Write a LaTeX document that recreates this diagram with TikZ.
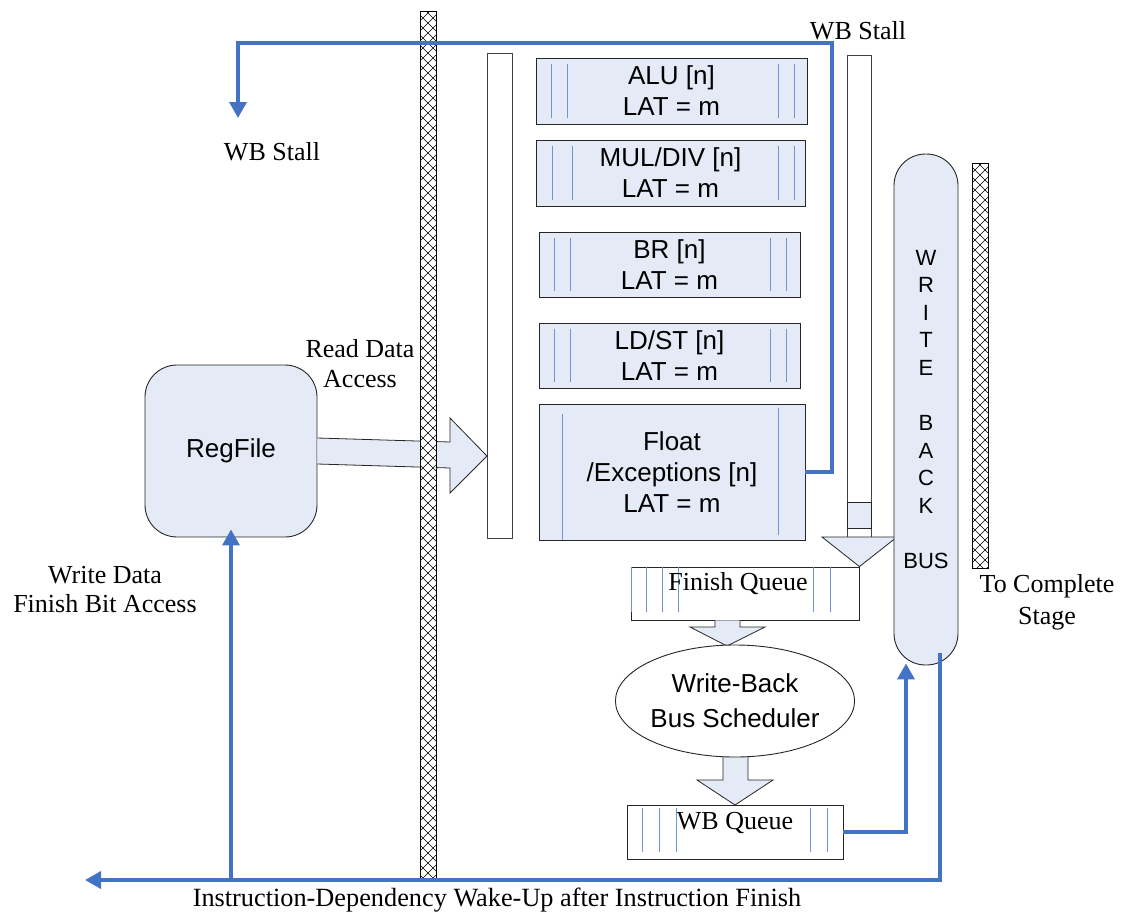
\documentclass[tikz,border=0pt]{standalone}
\usepackage{fontspec}
\setmainfont{Liberation Serif}
\newfontfamily\arialf{Liberation Sans}
\usetikzlibrary{arrows.meta,calc,shapes.geometric}

\definecolor{unitfill}{RGB}{228,235,246}
\definecolor{wire}{RGB}{68,114,196}
\definecolor{slot}{RGB}{110,150,215}

\tikzset{
  unit/.style={draw=black!85, fill=unitfill, line width=0.9pt, inner sep=0pt,
    font=\arialf\fontsize{26}{31}\selectfont, align=center},
  queue/.style={draw=black!85, fill=white, line width=0.9pt, inner sep=0pt},
  column/.style={draw=black!75, fill=white, line width=0.9pt, inner sep=0pt},
  blockarrow/.style={draw=black!85, fill=unitfill, line width=0.8pt},
  slotline/.style={draw=slot, line width=1pt},
  wire/.style={draw=wire, line width=3.6pt},
  wirearrow/.style={wire, -{Triangle[length=16pt,width=17pt]}},
  serif/.style={font=\fontsize{26}{30}\selectfont, align=center, inner sep=0pt},
  hbar/.style={fill=white, inner sep=0pt, outer sep=0pt},
  hatch/.style={line width=0.5pt},
}

% pipeline latch: white bar with a diagonal cross-hatch
% #1 name, #2 left, #3 top, #4 right, #5 bottom
\newcommand{\hatchbar}[5]{%
  \node[hbar, minimum width={#4-#2}, minimum height={#5-#3}] (#1) at ({(#2+#4)/2},{(#3+#5)/2}) {};
  \begin{scope}
    \clip (#2,#3) rectangle (#4,#5);
    \pgfmathtruncatemacro\nlines{(#5-#3+#4-#2)/10+2}
    \foreach \k in {0,...,\nlines}{
      \draw[hatch] (#2,{#3-(#4-#2)+\k*10}) -- ++({#4-#2},{#4-#2});
      \draw[hatch] (#2,{#3+\k*10}) -- ++({#4-#2},{-(#4-#2)});
    }
  \end{scope}
  \draw[line width=0.8pt] (#2,#3) rectangle (#4,#5);
}

\begin{document}
\begin{tikzpicture}[x=1pt,y=-1pt]
\useasboundingbox (0,0) rectangle (1127,916);

% ---- register file and read path ----
\node[unit, rounded corners=32pt, minimum width=172, minimum height=172] (reg) at (231,451) {RegFile};
\node[column] (issue) at (499.5,295.5) [minimum width=25, minimum height=485] {};
\draw[blockarrow] ($(reg.east)+(0,-13)$) -- (450,442) -- (450,418) -- (487,456)
  -- (450,493) -- (450,468) -- ($(reg.east)+(0,13)$);

% ---- functional units ----
\node[unit, minimum width=271, minimum height=66] (alu) at (671.5,91) {ALU [n]\\LAT = m};
\node[unit, minimum width=269, minimum height=66] (mul) at (670.5,173) {MUL/DIV [n]\\LAT = m};
\node[unit, minimum width=261, minimum height=65] (br) at (669.5,264.5) {BR [n]\\LAT = m};
\node[unit, minimum width=261, minimum height=65] (ldst) at (669.5,355.5) {LD/ST [n]\\LAT = m};
\node[unit, minimum width=266, minimum height=136] (float) at (672,472) {Float\\/Exceptions [n]\\LAT = m};

\foreach \u/\la/\lb/\ra/\rb in {alu/16/32/13/29, mul/17/37/11/27, br/16/32/14/30, ldst/16/32/14/30}{
  \draw[slotline] ($(\u.north west)+(\la,6)$) -- ($(\u.south west)+(\la,-6)$);
  \draw[slotline] ($(\u.north west)+(\lb,6)$) -- ($(\u.south west)+(\lb,-6)$);
  \draw[slotline] ($(\u.north east)+(-\ra,6)$) -- ($(\u.south east)+(-\ra,-6)$);
  \draw[slotline] ($(\u.north east)+(-\rb,6)$) -- ($(\u.south east)+(-\rb,-6)$);
}
\draw[slotline] ($(float.north west)+(24,10)$) -- (float.south west -| {$(float.north west)+(24,0)$});
\draw[slotline] ($(float.north east)+(-27,4)$) -- ($(float.south east)+(-27,-5)$);

% ---- write-back column into the finish queue ----
\node[column] (wbcol) at (859,296) [minimum width=24, minimum height=482] {};
\draw[blockarrow] (847,502) rectangle (871,528);

\node[queue, minimum width=228, minimum height=53] (fq) at (745,593.5) {};
\draw[blockarrow] (822,537) -- (fq.north east) -- (897,537) -- cycle;
\foreach \dx in {1,16,32,48}
  \draw[slotline] ($(fq.north west)+(\dx,0)$) -- ($(fq.south west)+(\dx,-8)$);
\foreach \dx in {29,46}
  \draw[slotline] ($(fq.north east)+(-\dx,0)$) -- ($(fq.south east)+(-\dx,-8)$);
\node[serif] (fqlabel) at ($(fq.center)+(-7,-9.5)$) {Finish Queue};

% ---- scheduler and write-back queue ----
\draw[blockarrow] (fq.south -| 715,0) -- (715,627) -- (690,627) -- (727,646)
  -- (765,627) -- (740,627) -- (fq.south -| 740,0);
\draw[blockarrow] (723,750) -- (723,780) -- (697,780) -- (735,805)
  -- (773,780) -- (748,780) -- (748,750);
\node[draw=black!85, fill=white, ellipse, line width=0.9pt, minimum width=224, minimum height=112,
  inner sep=0pt, align=center, font=\arialf\fontsize{26}{35}\selectfont] (sched) at (735,701)
  {Write-Back\\Bus Scheduler};

\node[queue, minimum width=216, minimum height=54] (wbq) at (735,832) {};
\foreach \dx in {16,33,50}
  \draw[slotline] ($(wbq.north west)+(\dx,3)$) -- ($(wbq.south west)+(\dx,-7)$);
\foreach \dx in {16,33}
  \draw[slotline] ($(wbq.north east)+(-\dx,3)$) -- ($(wbq.south east)+(-\dx,-7)$);
\node[serif] (wbqlabel) at ($(wbq.center)+(0,-9)$) {WB Queue};

% ---- write-back bus ----
\node[unit, rounded corners=31.5pt, minimum width=64, minimum height=511,
  font=\arialf\fontsize{22}{27.6}\selectfont] (bus) at (926,409.5)
  {W\\R\\I\\T\\E\\[27.6pt]B\\A\\C\\K\\[27.6pt]BUS};

% ---- pipeline latches ----
\hatchbar{latchA}{420}{11}{436}{878}
\hatchbar{latchB}{972}{163}{988}{568}

% ---- control and wake-up wires ----
\coordinate (stallend) at (238,118);
\coordinate (wakeend) at (85,880);
\draw[wirearrow] (float.east) -| (832,43) -| (stallend);
\draw[wirearrow] (wbq.east) -| ([xshift=-20pt,yshift=2pt]bus.south);
\draw[wirearrow] ([xshift=14pt,yshift=12pt]bus.south) |- (wakeend);
\draw[wirearrow] (reg.south |- wakeend) -- ([yshift=8pt]reg.south);

% ---- labels ----
\node[serif] (stallTop) at (858,31) {WB Stall};
\node[serif] (stallLeft) at (272,152) {WB Stall};
\node[serif] (readLbl) at (360,364) {Read Data\\Access};
\node[serif, font=\fontsize{26}{29}\selectfont] (writeLbl) at (105,589.5) {Write Data\\Finish Bit Access};
\node[serif, font=\fontsize{26}{32}\selectfont] (completeLbl) at (1047,602) {To Complete\\Stage};
\node[serif, font=\fontsize{26.3}{30}\selectfont] (wakeLbl) at (497,900) {Instruction-Dependency Wake-Up after Instruction Finish};
\end{tikzpicture}
\end{document}
